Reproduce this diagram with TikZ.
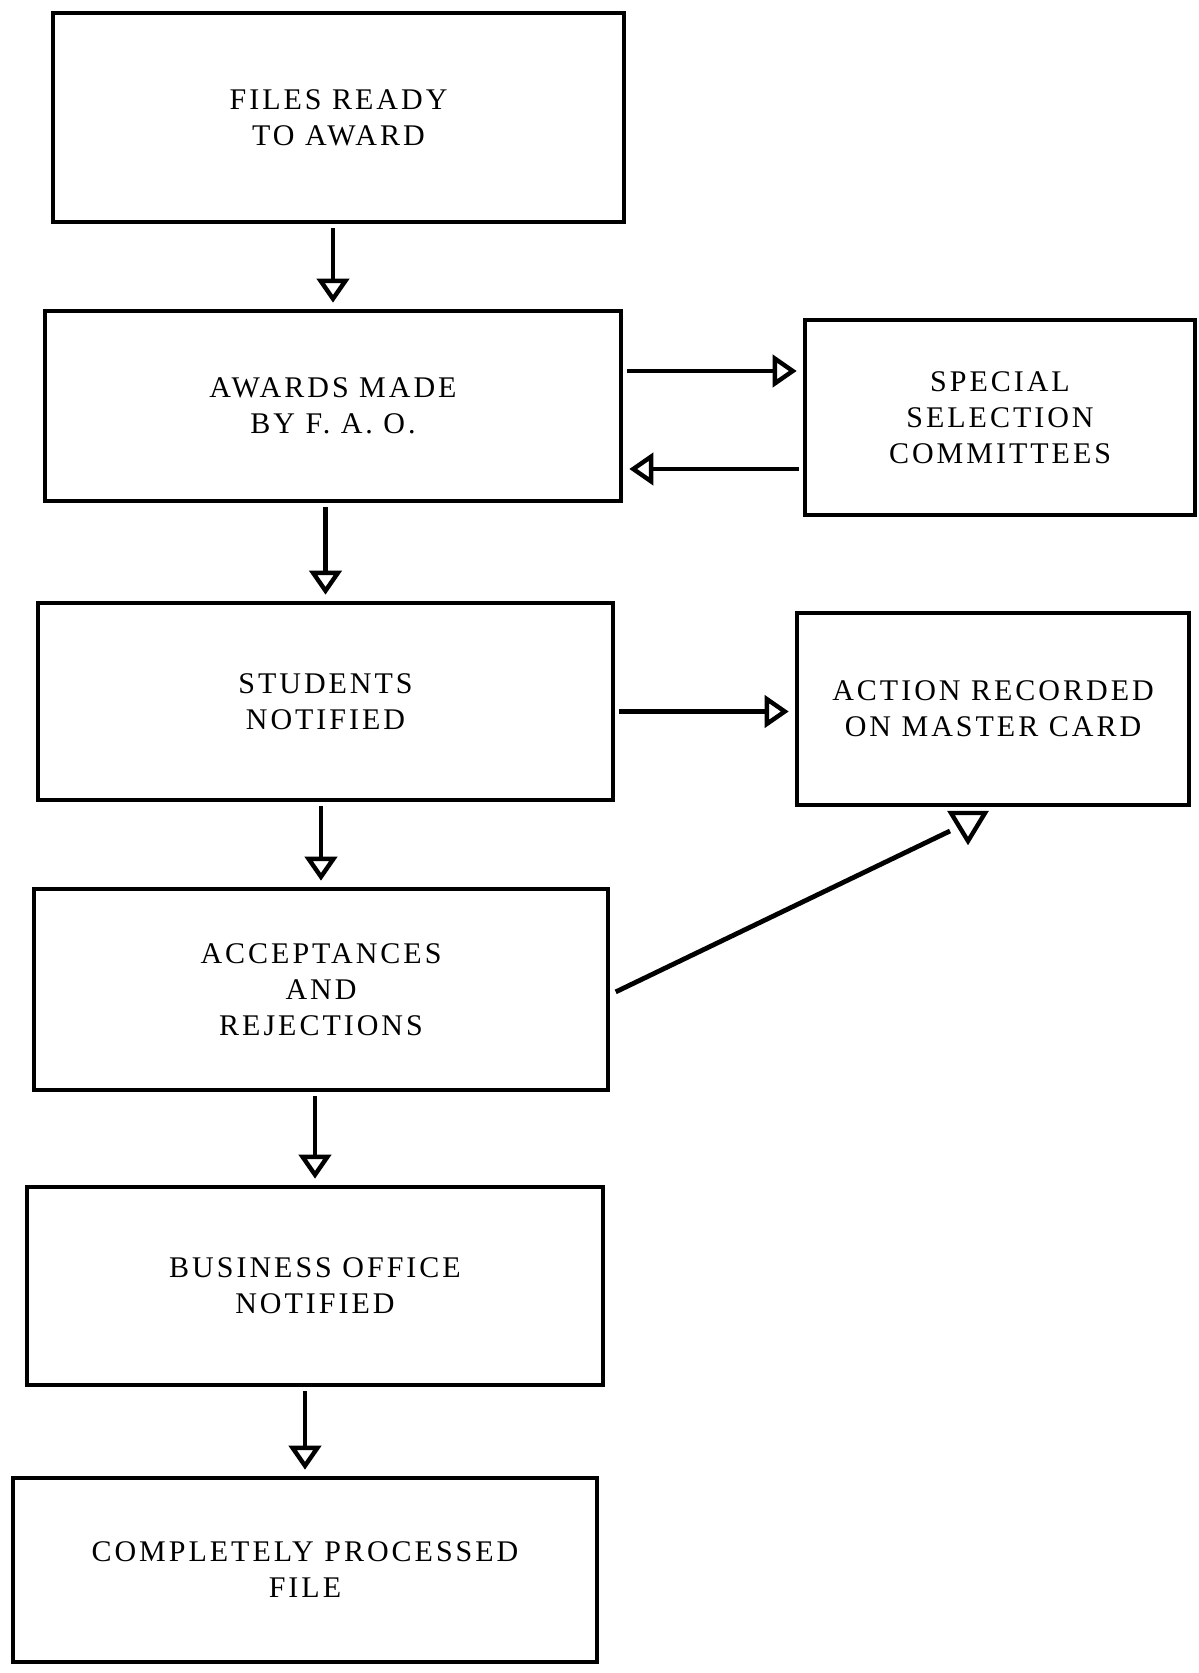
\documentclass[tikz,border=0pt]{standalone}
\usepackage{fontspec}
\setmainfont[LetterSpace=10]{Liberation Serif}
\usetikzlibrary{arrows.meta}

\tikzset{
  box/.style={draw, line width=2.3pt, inner sep=0pt, align=center, font=\fontsize{15}{18}\selectfont},
  flow/.style={line width=2.4pt, -{Triangle[open, length=12pt, width=16pt, line width=2.2pt]}, shorten <=2pt, shorten >=3pt},
}

\begin{document}
\begin{tikzpicture}[x=0.5pt, y=-0.5pt]
\useasboundingbox (0,0) rectangle (1198,1673);
% Main column
\node[box, minimum width=285.5pt, minimum height=104.5pt] (files) at (338.5,117.5) {FILES READY\\TO AWARD};
\node[box, minimum width=288pt, minimum height=95pt] (awards) at (333,406) {AWARDS MADE\\BY F. A. O.};
\node[box, minimum width=287.5pt, minimum height=98.5pt] (students) at (325.5,701.5) {STUDENTS\\NOTIFIED};
\node[box, minimum width=287pt, minimum height=100.5pt] (accept) at (321,989.5) {ACCEPTANCES\\AND\\REJECTIONS};
\node[box, minimum width=288pt, minimum height=99pt] (business) at (315,1286) {BUSINESS OFFICE\\NOTIFIED};
\node[box, minimum width=292pt, minimum height=92pt] (done) at (305,1570) {COMPLETELY PROCESSED\\FILE};
% Side boxes
\node[box, minimum width=195pt, minimum height=97.5pt] (committee) at (1000,417.5) {SPECIAL\\SELECTION\\COMMITTEES};
\node[box, minimum width=196pt, minimum height=96pt] (master) at (993,709) {ACTION RECORDED\\ON MASTER CARD};
% Down arrows
\draw[flow] (awards.north |- files.south) -- (awards.north);
\draw[flow] (students.north |- awards.south) -- (students.north);
\draw[flow] (accept.north |- students.south) -- (accept.north);
\draw[flow] (business.north |- accept.south) -- (business.north);
\draw[flow] (done.north |- business.south) -- (done.north);
% Side arrows
\draw[flow] ([yshift=17.5pt]awards.east) -- ([yshift=17.5pt]awards.east -| committee.west);
\draw[flow] ([yshift=-31.5pt]awards.east -| committee.west) -- ([yshift=-31.5pt]awards.east);
\draw[flow] ([yshift=-5pt]students.east) -- ([yshift=-5pt]students.east -| master.west);
% Diagonal to master card
\coordinate (diagend) at (950,831);
\draw[line width=2.4pt, shorten <=3pt] ([yshift=-2.5pt]accept.east) -- (diagend);
\draw[line width=2.2pt, line join=miter] (951,813) -- (985,813) -- (968,841) -- cycle;
\end{tikzpicture}
\end{document}
